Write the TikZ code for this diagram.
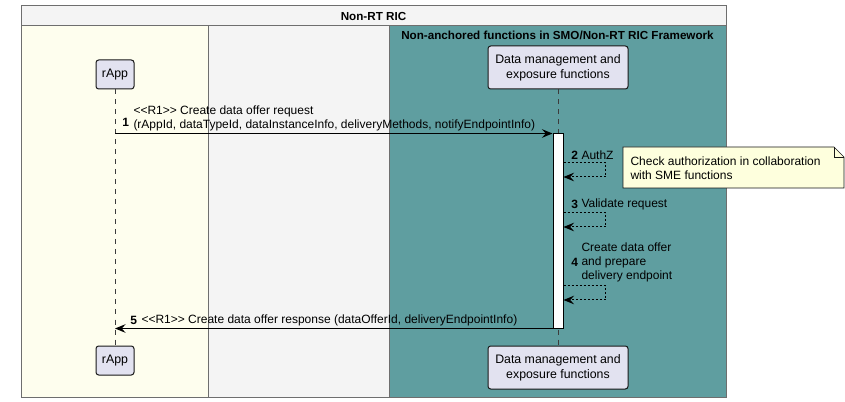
\documentclass[tikz,border=0pt]{standalone}
\usepackage{fontspec}
\setmainfont{Liberation Sans}[Ligatures=TeXOff]
\usetikzlibrary{arrows.meta,calc}

\definecolor{hdrgray}{RGB}{244,244,244}
\definecolor{ryellow}{RGB}{254,254,238}
\definecolor{smoteal}{RGB}{95,158,160}
\definecolor{partfill}{RGB}{226,226,240}
\definecolor{notefill}{RGB}{254,255,221}
\definecolor{boxline}{RGB}{110,110,110}

\tikzset{every picture/.style={line width=0.75pt}}
\tikzset{
  part/.style={draw={rgb,255:red,24;green,24;blue,24}, fill=partfill, rounded corners=2pt, inner sep=0pt, align=center, font=\fontsize{9.25}{11}\selectfont},
  life/.style={draw={rgb,255:red,60;green,60;blue,60}, line width=0.5pt, dash pattern=on 3.75pt off 3.75pt},
  msg/.style={-{Stealth[length=8pt,width=6.5pt,inset=3pt]}, line width=0.75pt},
  selfmsg/.style={-{Stealth[length=8pt,width=6.5pt,inset=3pt]}, line width=0.75pt, dash pattern=on 1.5pt off 1.5pt},
  lbl/.style={inner sep=0pt, align=left},
  num/.style={inner sep=0pt, font=\fontsize{9}{10.5}\selectfont\bfseries},
  ttl/.style={inner sep=0pt, font=\fontsize{8.75}{10.5}\selectfont\bfseries},
}

\begin{document}
\begin{tikzpicture}[x=0.75pt,y=0.75pt,yscale=-1,xscale=1, font=\fontsize{9}{10.5}\selectfont]
\useasboundingbox (0,0) rectangle (845,402);

% Boxes
\draw [draw=boxline, fill=hdrgray] (21,6) rectangle (726,397);
\fill [ryellow] (21,26) rectangle (208,397);
\fill [smoteal] (389,26) rectangle (726,397);
\draw [boxline] (21,26) -- (726,26);
\draw [boxline] (208,26) -- (208,397);
\draw [boxline] (389,26) -- (389,397);
\draw [boxline] (21,6) rectangle (726,397);

% Box titles
\node [ttl] (ric) at (373.5,16) {Non-RT RIC};
\node [ttl] (smo) at (557.5,35) {Non-anchored functions in SMO/Non-RT RIC Framework};

% Participants
\node [part, minimum width=28.5pt, minimum height=21.75pt] (rapp) at (115,74.5) {rApp};
\node [part, minimum width=28.5pt, minimum height=21.75pt] (rappb) at (115,360.5) {rApp};
\node [part, minimum width=105pt, minimum height=32.25pt] (dmf) at (558,67.5) {Data management and\\exposure functions};
\node [part, minimum width=105pt, minimum height=32.25pt] (dmfb) at (558,367.5) {Data management and\\exposure functions};

% Lifelines
\draw [life] (rapp) -- (rappb);
\draw [life] (dmf) -- (dmfb);

% Activation
\node [draw, fill=white, inner sep=0pt, minimum width=7.5pt, minimum height=145.5pt] (act) at (558,231) {};

% 1
\draw [msg] (rapp.south |- act.north) -- (act.north west);
\node [num, anchor=east] (n1) at (129.5,122) {1};
\node [lbl, anchor=south west] (t1) at (133,131) {<<R1>> Create data offer request\\(rAppId, dataTypeId, dataInstanceInfo, deliveryMethods, notifyEndpointInfo)};

% 2
\coordinate (s2) at (act.east |- 0,163);
\draw [selfmsg] (s2) -- ++(42,0) -- ++(0,14) -- ++(-42,0);
\node [num, anchor=east] (n2) at (578.5,155) {2};
\node [lbl, anchor=west] (t2) at (581,155) {AuthZ};

% Note
\node [lbl, anchor=north west, minimum width=162pt, minimum height=30pt, text width=155pt, inner xsep=5pt] (note) at (623,147) {};
\draw [draw={rgb,255:red,24;green,24;blue,24}, fill=notefill, line width=0.5pt] (note.north west) -- ($(note.north east)+(-10,0)$) -- ($(note.north east)+(0,10)$) -- (note.south east) -- (note.south west) -- cycle;
\draw [draw={rgb,255:red,24;green,24;blue,24}, line width=0.5pt] ($(note.north east)+(-10,0)$) -- ($(note.north east)+(-10,10)$) -- ($(note.north east)+(0,10)$);
\node [lbl, anchor=west] (notetxt) at (630,168) {Check authorization in collaboration\\with SME functions};

% 3
\coordinate (s3) at (act.east |- 0,213);
\draw [selfmsg] (s3) -- ++(42,0) -- ++(0,14) -- ++(-42,0);
\node [num, anchor=east] (n3) at (578.5,204) {3};
\node [lbl, anchor=west] (t3) at (581,204) {Validate request};

% 4
\coordinate (s4) at (act.east |- 0,286);
\draw [selfmsg] (s4) -- ++(42,0) -- ++(0,14) -- ++(-42,0);
\node [num, anchor=east] (n4) at (578.5,262) {4};
\node [lbl, anchor=west] (t4) at (581,262) {Create data offer\\and prepare\\delivery endpoint};

% 5
\draw [msg] (act.south west) -- (rapp.south |- act.south);
\node [num, anchor=east] (n5) at (137.5,320) {5};
\node [lbl, anchor=west] (t5) at (141,320) {<<R1>> Create data offer response (dataOfferId, deliveryEndpointInfo)};

\end{tikzpicture}
\end{document}
